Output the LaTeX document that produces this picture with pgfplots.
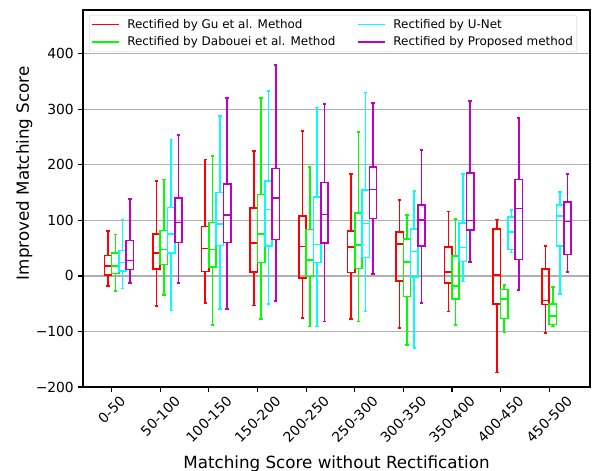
\documentclass[border=0pt]{standalone}
\usepackage{fontspec}
\setmainfont{DejaVu Sans}
\usepackage{graphicx}
\usepackage{pgfplots}
\pgfplotsset{compat=1.18}
\usepgfplotslibrary{statistics}
\definecolor{cR}{HTML}{FF0000}
\definecolor{cG}{HTML}{00FF00}
\definecolor{cC}{HTML}{00FFFF}
\definecolor{cM}{HTML}{BF00BF}
% \bx{draw position}{lower whisker}{q1}{median}{q3}{upper whisker}{colour}
\newcommand{\bx}[7]{\addplot[#7, line width=1.6bp, solid, forget plot,
  boxplot/draw direction=y,
  boxplot/every box/.style={line width=1.6bp},
  boxplot/every whisker/.style={line width=1.6bp},
  boxplot/every median/.style={line width=1.6bp},
  boxplot prepared={draw position=#1, lower whisker=#2, lower quartile=#3,
  median=#4, upper quartile=#5, upper whisker=#6, box extend=0.15, whisker extend=0.07}]
  coordinates {};}
\newcommand{\rl}[1]{\rotatebox{45}{#1}}
\begin{document}
\begin{tikzpicture}
\begin{axis}[
  scale only axis, width=507bp, height=377bp,
  xmin=-0.59, xmax=9.84, ymin=-200, ymax=479,
  xtick={0,...,9},
  xticklabels={\rl{0-50},\rl{50-100},\rl{100-150},\rl{150-200},\rl{200-250},\rl{250-300},\rl{300-350},\rl{350-400},\rl{400-450},\rl{450-500}},
  ytick={-200,-100,0,100,200,300,400},
  yticklabels={−200,−100,0,100,200,300,400},
  tick pos=left, tick align=outside, major tick length=5bp,
  every tick/.style={black, line width=1.1bp},
  axis line style={line width=1.1bp},
  ymajorgrids, grid style={color=black!31, line width=1.1bp},
  /pgf/number format/assume math mode=true,
  ticklabel style={font=\fontsize{13.9}{16}\selectfont},
  xticklabel style={anchor=north, inner sep=2bp, yshift=-1bp},
  yticklabel style={inner sep=2bp, xshift=-2bp},
  xlabel={Matching Score without Rectification},
  ylabel={Improved Matching Score},
  label style={font=\fontsize{16.8}{19}\selectfont},
  ylabel style={at={(ticklabel cs:0.567)}, yshift=-2bp},
  xlabel style={yshift=-7bp},
  legend columns=2, transpose legend,
  legend style={at={(0.012,0.987)}, anchor=north west, draw=black!20, rounded corners=2bp,
    font=\fontsize{12}{14}\selectfont, row sep=3bp, inner sep=2bp,
    /tikz/every even column/.append style={column sep=20bp}},
  legend cell align=left,
  legend image code/.code={\draw[#1, line width=1.6bp] (0bp,0bp) -- (27bp,0bp); \path (33bp,0bp);},
]
\addlegendimage{cR}\addlegendentry{Rectified by Gu et al. Method}
\addlegendimage{cG}\addlegendentry{Rectified by Dabouei et al. Method}
\addlegendimage{cC}\addlegendentry{Rectified by U-Net}
\addlegendimage{cM}\addlegendentry{Rectified by Proposed method}
% 0-50
\bx{-0.075}{-18.6}{1.2}{18}{37.2}{80.5}{cR}
\bx{0.075}{-27}{4.2}{18}{41.4}{75}{cG}
\bx{0.225}{-22.8}{8.4}{24}{46}{102}{cC}
\bx{0.375}{-12.6}{11.4}{28.2}{63.7}{138.7}{cM}
% 50-100
\bx{0.925}{-54}{12.6}{41.4}{75.7}{170.6}{cR}
\bx{1.075}{-34.8}{20.4}{47.4}{81.7}{174}{cG}
\bx{1.225}{-61.9}{41.4}{75.7}{123}{246}{cC}
\bx{1.375}{-12.6}{60}{96}{140.5}{254}{cM}
% 100-150
\bx{1.925}{-49}{7.8}{49.8}{89}{210}{cR}
\bx{2.075}{-88}{15.6}{48}{96}{216}{cG}
\bx{2.225}{-60}{54.7}{93.7}{150}{288}{cC}
\bx{2.375}{-60}{60}{109.3}{165.8}{320}{cM}
% 150-200
\bx{2.925}{-53.5}{7.5}{59.3}{122}{225}{cR}
\bx{3.075}{-77}{24}{76}{147}{320.7}{cG}
\bx{3.225}{-50}{53.5}{120}{171}{332.7}{cC}
\bx{3.375}{-45}{65.5}{140}{193.4}{379.6}{cM}
% 200-250
\bx{3.925}{-75.7}{-3.6}{52.9}{108}{260.7}{cR}
\bx{4.075}{-91.3}{-1.2}{28.8}{83.5}{196.4}{cG}
\bx{4.225}{-91.3}{24}{57}{142.3}{303.3}{cC}
\bx{4.375}{-82.3}{58.9}{111}{168}{310}{cM}
% 250-300
\bx{4.925}{-78}{6}{51.7}{81}{183.8}{cR}
\bx{5.075}{-82.3}{13.2}{55.3}{113.5}{259.5}{cG}
\bx{5.225}{-64.3}{33.6}{94.3}{154.4}{330.3}{cC}
\bx{5.375}{3.6}{103.3}{155.6}{195.8}{311.7}{cM}
% 300-350
\bx{5.925}{-94}{-9.3}{57.7}{79.2}{137.3}{cR}
\bx{6.075}{-124.5}{-37.1}{24.6}{66.7}{109.6}{cG}
\bx{6.225}{-129.7}{-1.8}{44.4}{84.7}{152.6}{cC}
\bx{6.375}{-49.2}{54}{100.3}{128}{226.4}{cM}
% 350-400
\bx{6.925}{-64.3}{-12.6}{7.2}{52.3}{116}{cR}
\bx{7.075}{-88.3}{-41.4}{-18}{36}{102.7}{cG}
\bx{7.225}{-10.2}{25.8}{51}{95.5}{183.2}{cC}
\bx{7.375}{24.6}{82.3}{99.7}{185}{315.3}{cM}
% 400-450
\bx{7.925}{-173.6}{-50.5}{1.8}{84.7}{102}{cR}
\bx{8.075}{-101.5}{-76.3}{-41.4}{-24.6}{-16.8}{cG}
\bx{8.225}{42.6}{48}{79.3}{106.3}{119}{cC}
\bx{8.375}{-25.8}{29.4}{121.3}{173.6}{284.7}{cM}
% 450-500
\bx{8.925}{-102.7}{-51.7}{-44.4}{12.6}{54}{cR}
\bx{9.075}{-91.3}{-87.7}{-72}{-50.5}{-20.4}{cG}
\bx{9.225}{-32.4}{54}{107.5}{128}{150.8}{cC}
\bx{9.375}{6.6}{39}{98}{133.3}{183.2}{cM}
\end{axis}
\pgfresetboundingbox
\useasboundingbox ([xshift=-83bp,yshift=-83bp]current axis.south west) rectangle ([xshift=2bp,yshift=10bp]current axis.north east);
\end{tikzpicture}
\end{document}
